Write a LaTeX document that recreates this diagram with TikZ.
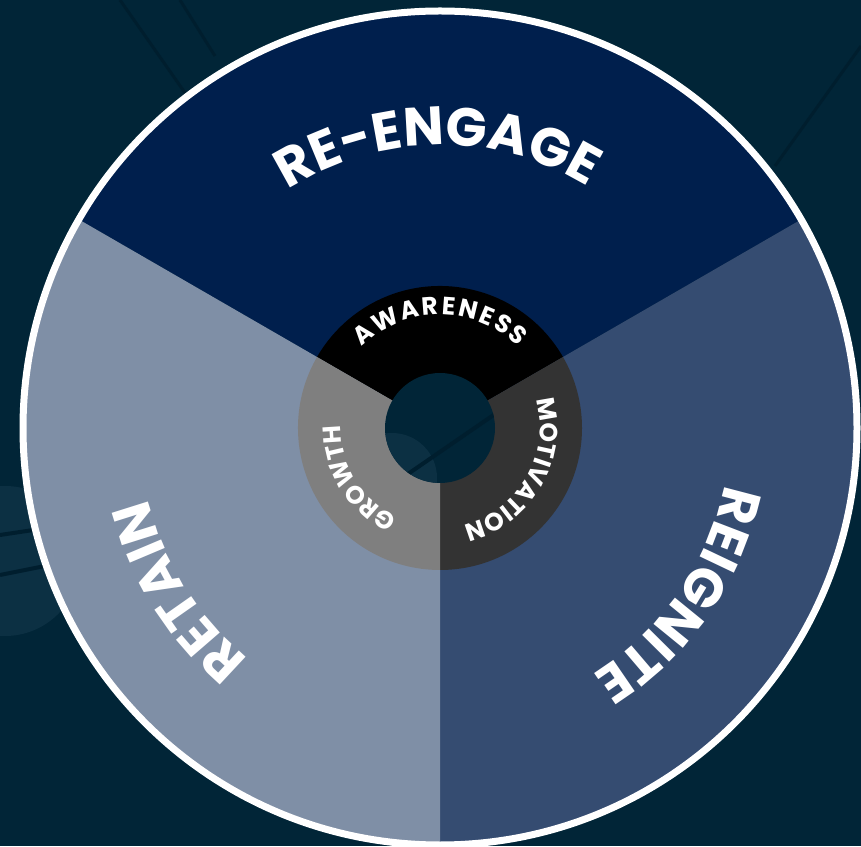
\documentclass[tikz,border=0pt]{standalone}
\usepackage{fontspec}
\setmainfont{Poppins}
\usetikzlibrary{decorations.text}
\definecolor{bg}{HTML}{012537}
\definecolor{bglight}{HTML}{0C3043}
\definecolor{bgdark}{HTML}{001E2E}
\definecolor{topc}{HTML}{001F4D}
\definecolor{rightc}{HTML}{354C71}
\definecolor{leftc}{HTML}{7F8FA6}
\definecolor{ringtop}{HTML}{000000}
\definecolor{ringright}{HTML}{333333}
\definecolor{ringleft}{HTML}{7F7F7F}
\newcommand\bigtxt{\fontsize{54}{56}\selectfont\bfseries}
\newcommand\midtxt{\fontsize{25}{27}\selectfont\bfseries}
\tikzset{
  arctext/.style={decorate, decoration={text along path, text={#1}, text align=center, text color=white}},
  fittext/.style={decorate, decoration={text along path, text={#1}, text align=fit to path, text color=white}},
  faintline/.style={bgdark, line width=3pt}
}
\begin{document}
\begin{tikzpicture}[x=1pt,y=1pt]
\useasboundingbox (0,0) rectangle (861,846);
\fill[bg] (0,0) rectangle (861,846);
% faint background decorations
\fill[bglight] (5,285) circle[radius=75];
\draw[faintline, line width=4pt] (0,311) -- (60,320);
\draw[faintline, line width=4pt] (0,271) -- (60,283);
\draw[faintline] (120,846) -- (190,746);
\draw[faintline] (180,846) -- (215,790);
\draw[faintline] (861,800) -- (775,680);
\begin{scope}[shift={(440,418)}]
  % outer sectors
  \fill[topc] (0,0) -- (30:414) arc[start angle=30, end angle=150, radius=414] -- cycle;
  \fill[rightc] (0,0) -- (-90:414) arc[start angle=-90, end angle=30, radius=414] -- cycle;
  \fill[leftc] (0,0) -- (150:414) arc[start angle=150, end angle=270, radius=414] -- cycle;
  \draw[white, line width=7pt] (0,0) circle[radius=417];
  % inner ring
  \fill[ringtop] (0,0) -- (30:142) arc[start angle=30, end angle=150, radius=142] -- cycle;
  \fill[ringright] (0,0) -- (-90:142) arc[start angle=-90, end angle=30, radius=142] -- cycle;
  \fill[ringleft] (0,0) -- (150:142) arc[start angle=150, end angle=270, radius=142] -- cycle;
  % hole
  \fill[bg] (0,0) circle[radius=55];
  \begin{scope}
    \clip (0,0) circle[radius=55];
    \fill[bglight] (-48,-50) circle[radius=45];
    \draw[faintline, line width=4pt] (-35,-48) -- (55,14);
  \end{scope}
  % labels
  \path[arctext={|\bigtxt|RE-ENGAGE}] (150.5:283) arc[start angle=150.5, end angle=30.5, radius=283];
  \path[arctext={|\bigtxt|RETAIN}] (262:300) arc[start angle=262, end angle=162, radius=300];
  \path[arctext={|\bigtxt|REIGNITE}] (15.2:290) arc[start angle=15.2, end angle=-84.8, radius=290];
  \path[fittext={|\midtxt|AWARENESS}] (134:113) arc[start angle=134, end angle=46, radius=113];
  \path[arctext={|\midtxt|MOTIVATION}] (30:100) arc[start angle=30, end angle=-90, radius=100];
  \path[arctext={|\midtxt|GROWTH}] (271.5:99) arc[start angle=271.5, end angle=151.5, radius=99];
\end{scope}
\end{tikzpicture}
\end{document}
